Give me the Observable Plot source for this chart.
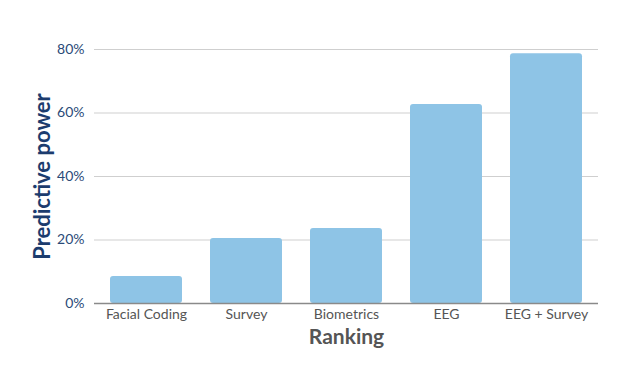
<!DOCTYPE html>
<html>
<head>
<meta charset="utf-8">
<script src="https://cdn.jsdelivr.net/npm/d3@7"></script>
<script src="https://cdn.jsdelivr.net/npm/@observablehq/plot@0.6"></script>
<style>
  html, body { margin: 0; padding: 0; background: #fff; }
  #chart { width: 640px; height: 368px; }
</style>
</head>
<body>
<div id="chart"></div>
<script>
const categories = ["Facial Coding", "Survey", "Biometrics", "EEG", "EEG + Survey"];
const values = [8.5, 20.5, 23.6, 62.7, 78.7];
const yTicks = [0, 20, 40, 60, 80];

const data = categories.map((c, i) => ({category: c, value: values[i]}));

const plot = Plot.plot({
  width: 640,
  height: 368,
  marginLeft: 94,
  marginRight: 42,
  marginTop: 49,
  marginBottom: 65,
  style: {fontFamily: "Lato, sans-serif", background: "#fff"},
  x: {domain: categories, paddingInner: 0.285, paddingOuter: 0.14, label: null},
  y: {domain: [0, 80], label: null},
  marks: [
    Plot.gridY(yTicks, {stroke: "#cfcfcf", strokeOpacity: 1, strokeWidth: 1}),
    Plot.barY(data, {x: "category", y: "value", fill: "#8ec4e6", rx: 3}),
    Plot.ruleY([0], {stroke: "#8a8a8a", strokeWidth: 1.5}),
    Plot.axisY(yTicks, {tickSize: 0, tickPadding: 10, tickFormat: d => d + "%", fill: "#2a4a78", fontSize: 14, label: null}),
    Plot.axisX({tickSize: 0, tickPadding: 6, fill: "#555", fontSize: 14, label: null}),
    Plot.text(["Predictive power"], {frameAnchor: "left", textAnchor: "middle", lineAnchor: "middle", dx: -52, rotate: -90, fill: "#1c3c6e", fontSize: 22, fontWeight: "bold"}),
    Plot.text(["Ranking"], {frameAnchor: "bottom", textAnchor: "middle", lineAnchor: "middle", dy: 34, fill: "#555", fontSize: 21, fontWeight: "bold"})
  ]
});
document.getElementById("chart").appendChild(plot);
</script>
</body>
</html>
